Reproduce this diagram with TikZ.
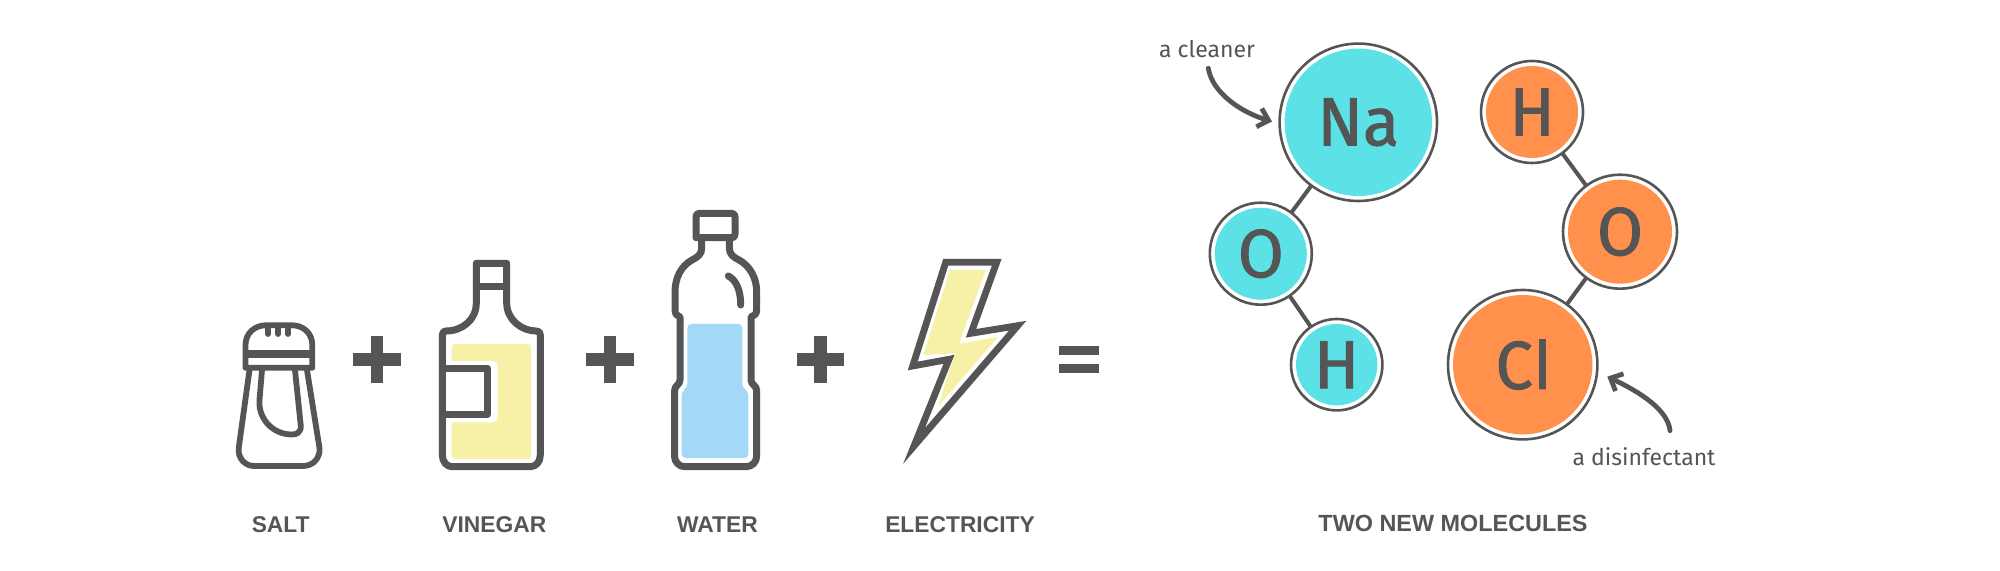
\documentclass[tikz,border=0pt]{standalone}
\usepackage{fontspec}
\setmainfont{Fira Sans}
\newfontfamily\atomfont{Fira Sans}[FakeBold=1.4,FakeStretch=0.98]
\newfontfamily\barfont{Liberation Sans}[FakeBold=1.2]
\newfontfamily\capsfont{Liberation Sans}[BoldFont={Liberation Sans Bold}]
\usetikzlibrary{arrows.meta}
\definecolor{ink}{HTML}{555555}
\definecolor{cyanfill}{HTML}{5CE1E6}
\definecolor{orangefill}{HTML}{FF914D}
\definecolor{lemon}{HTML}{F7F1A8}
\definecolor{waterblue}{HTML}{A3D8F9}
\tikzset{
  atom/.style 2 args={circle,draw=ink,fill=white,line width=1.3pt,inner sep=0pt,outer sep=0pt,
     text=ink,font=\atomfont\fontsize{34}{34}\selectfont,minimum size=#2pt,
     path picture={\fill[#1] (path picture bounding box.center) circle[radius=(#2*0.5pt-2.5pt)];}},
  catom/.style={atom={cyanfill}{#1}},
  oatom/.style={atom={orangefill}{#1}},
  icon/.style={draw=ink,line join=round,line cap=round},
  thin icon/.style={icon,line width=2.9pt},
  thick icon/.style={icon,line width=3.5pt},
  symbolbar/.style={fill=ink},
  caption/.style={text=ink,font=\capsfont\bfseries\fontsize{11.4}{11.4}\selectfont,inner sep=0pt},
  note/.style={text=ink,font=\fontsize{11.5}{11.5}\selectfont,inner sep=0pt},
  bond/.style={draw=ink,line width=2pt},
  pointer/.style={draw=ink,line width=2.4pt,line cap=round,-{Straight Barb[length=5pt,width=9.5pt,line width=2.4pt]}},
}
\newcommand{\plussign}[2]{\fill[symbolbar] (#1-23.8,#2-6.2) rectangle (#1+23.8,#2+6.2);
  \fill[symbolbar] (#1-6.2,#2-23.8) rectangle (#1+6.2,#2+23.8);}
\begin{document}
\begin{tikzpicture}[x=0.5pt,y=-0.5pt]
\path[use as bounding box,fill=white] (0,0) rectangle (2000,571);

% salt shaker
\draw[thin icon] (245.5,345) .. controls (245.5,333) and (255,325.3) .. (266,325.3) -- (292,325.3)
   .. controls (303,325.3) and (312.3,333) .. (312.3,345) -- (312.3,367.8) -- (245.5,367.8) -- cycle;
\fill[ink] (245.5,350) rectangle (312.3,358);
\draw[thin icon] (268,326) -- (268,334) (278,326) -- (278,334) (288,326) -- (288,334);
\draw[thin icon] (249.5,370) -- (238.7,448) .. controls (237.5,458) and (245,466) .. (254,466) -- (303,466)
   .. controls (313,466) and (320.5,458) .. (319.5,448) -- (307,370);
\draw[thin icon] (262,370) -- (259.5,400) .. controls (258,418) and (272,434) .. (291,434.5)
   .. controls (297,435) and (301.5,432) .. (300.7,425) -- (295,370);

% plus signs and equals
\plussign{377.2}{359.5}
\plussign{610}{359.5}
\plussign{820.5}{359.5}
\fill[symbolbar] (1059.3,345.7) rectangle (1099.3,355);
\fill[symbolbar] (1059.3,363.5) rectangle (1099.3,373);

% vinegar bottle
\fill[lemon,rounded corners=1.5pt] (451.7,344) rectangle (531,459);
\fill[white,rounded corners=3pt] (445,361) rectangle (497.7,422.3);
\draw[thick icon] (476.3,263.3) -- (506.7,263.3) -- (506.7,303) .. controls (506.7,320) and (522,331) .. (536,331)
   .. controls (539,331) and (540.3,332) .. (540.3,335) -- (540.3,455) .. controls (540.3,462) and (536,466.7) .. (530,466.7)
   -- (452,466.7) .. controls (447,466.7) and (442.3,462) .. (442.3,455) -- (442.3,335) .. controls (442.3,332) and (444,331) .. (446,331)
   .. controls (462,331) and (476.3,320) .. (476.3,303) -- cycle;
\draw[thick icon] (476.3,286.3) -- (506.7,286.3);
\draw[thick icon] (442.3,368.3) -- (487.7,368.3) -- (487.7,414) -- (442.3,414);

% water bottle
\fill[waterblue,rounded corners=2pt] (687.3,324) -- (742.3,324) -- (742.3,388) -- (748.3,391) -- (748.3,458)
   -- (681.7,458) -- (681.7,391) -- (687.3,388) -- cycle;
\draw[thick icon] (696,237.7) -- (696,217) .. controls (696,214.5) and (697,213.5) .. (699,213.5) -- (732,213.5)
   .. controls (734,213.5) and (735,214.5) .. (735,217) -- (735,234) .. controls (735,236.5) and (734,237.7) .. (732,237.7) -- (699,237.7)
   .. controls (697,237.7) and (696,236.5) .. (696,234) -- cycle;
\draw[thick icon] (701.7,237.7) -- (701.7,248) .. controls (701.7,254) and (698,257) .. (692,260)
   .. controls (681,266) and (675,278) .. (675,292) -- (675,310) .. controls (675,314) and (677,316) .. (680,317) -- (680,380)
   .. controls (680,385) and (674.5,385) .. (674.5,391) -- (674.5,456) .. controls (674.5,462) and (679,466.7) .. (685,466.7) -- (746,466.7)
   .. controls (752,466.7) and (756.7,462) .. (756.7,456) -- (756.7,391) .. controls (756.7,385) and (751,385) .. (751,380) -- (751,317)
   .. controls (754,316) and (756.7,314) .. (756.7,310) -- (756.7,292) .. controls (756.7,278) and (750,266) .. (739,260)
   .. controls (733,257) and (729.3,254) .. (729.3,248) -- (729.3,237.7);
\draw[thick icon] (728.3,276) .. controls (736,280) and (740.7,290) .. (740.7,305);

% lightning bolt
\fill[lemon] (950,270) -- (985.7,270) -- (959,344) -- (998.3,336.7) -- (938.3,406) -- (955,353.3) -- (923.3,355) -- cycle;
\draw[draw=ink,line width=3.4pt,miter limit=10] (945.7,262.3) -- (996.7,262.3) -- (971,333.3) -- (1017.7,325.7)
   -- (914,446) -- (949,359.3) -- (912.7,366) -- cycle;

% captions
\node[caption] (salt) at (280.7,524.3) {SALT};
\node[caption] (vinegar) at (494.3,524.3) {VINEGAR};
\node[caption] (water) at (717.5,524.3) {WATER};
\node[caption] (electricity) at (960,524.3) {ELECTRICITY};
\node[caption,font=\capsfont\bfseries\fontsize{11.7}{11.7}\selectfont] (molecules) at (1453,523.5) {TWO NEW MOLECULES};

% sodium hydroxide
\node[catom=78.7] (Na) at (1358.3,122.3) {Na};
\node[catom=51] (O1) at (1260.8,253.7) {O};
\node[catom=45.7] (H1) at (1336.7,364.7) {H};
\draw[bond] (Na) -- (O1);
\draw[bond] (O1) -- (H1);

% hypochlorous acid
\node[oatom=51] (H2) at (1532,112) {H};
\node[oatom=57] (O2) at (1620,231.7) {O};
\node[oatom=74.7] (Cl) at (1522.7,364.7) {C\kern1pt{\barfont l}};
\draw[bond] (H2) -- (O2);
\draw[bond] (O2) -- (Cl);

% notes
\node[note] (cleaner) at (1207,49) {a cleaner};
\node[note] (disinfectant) at (1644,456.7) {a disinfectant};
\coordinate (cleanerstart) at (1208.3,68.3);
\coordinate (cleanerend) at (1272,121.5);
\coordinate (disstart) at (1670,430.7);
\coordinate (disend) at (1607.3,376.7);
\draw[pointer] (cleanerstart) .. controls (1212,92) and (1240,112) .. (cleanerend);
\draw[pointer] (disstart) .. controls (1668,410) and (1640,392) .. (disend);
\end{tikzpicture}
\end{document}
